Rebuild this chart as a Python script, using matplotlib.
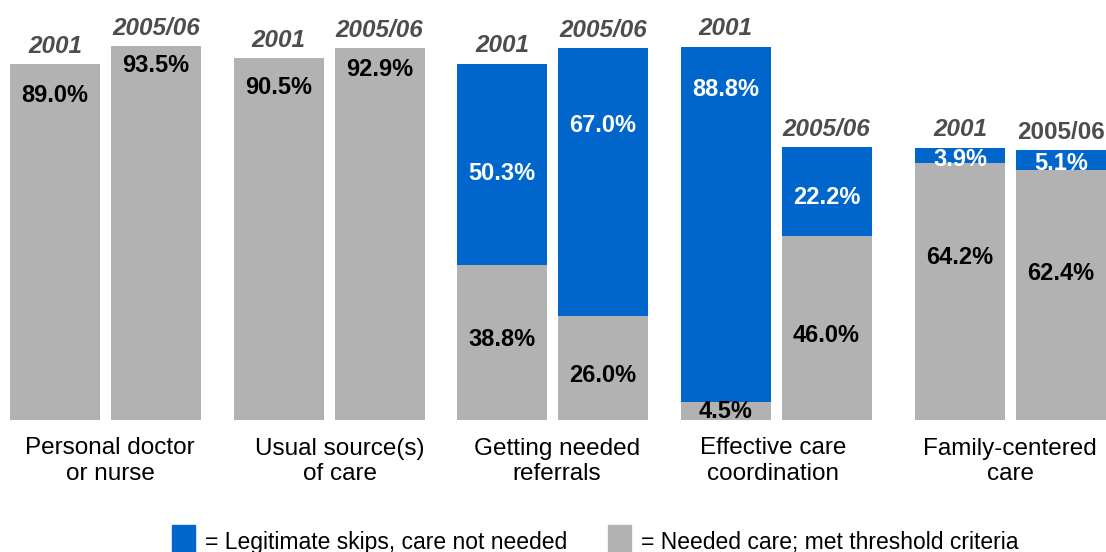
import numpy as np
import matplotlib
matplotlib.use("Agg")
import matplotlib.pyplot as plt
from matplotlib.patches import Rectangle

plt.rcParams['font.family'] = ['Liberation Sans', 'DejaVu Sans']

# data
categories = ["Personal doctor\nor nurse", "Usual source(s)\nof care", "Getting needed\nreferrals",
              "Effective care\ncoordination", "Family-centered\ncare"]
years = ["2001", "2005/06"]
needed_2001 = [89.0, 90.5, 38.8, 4.5, 64.2]
needed_2005 = [93.5, 92.9, 26.0, 46.0, 62.4]
skips_2001 = [0.0, 0.0, 50.3, 88.8, 3.9]
skips_2005 = [0.0, 0.0, 67.0, 22.2, 5.1]

# layout (label heights in % units)
group_x = [105.5, 329, 552.5, 776, 1010.5]
cat_x = [110, 340, 557, 773, 1010]
half = 50.5
bw = 90
needed_lab_y = [[81.25, 88.75], [83, 87.5], [20, 11.25], [2.25, 21], [40.5, 36.75]]
skips_lab_y = [[0, 0], [0, 0], [61.75, 73.75], [82.5, 55.5], [65.25, 64.25]]

BLUE = "#0066CC"
GRAY = "#B2B2B2"
YEARC = "#4D4D4D"

W, H = 1106, 552
base = 420
scale = 4.0

fig = plt.figure(figsize=(W/100, H/100), dpi=100)
ax = fig.add_axes([0, 0, 1, 1])
ax.set_xlim(0, W)
ax.set_ylim(-(H-base)/scale, base/scale)
ax.axis("off")

needed = [needed_2001, needed_2005]
skips = [skips_2001, skips_2005]
for g in range(len(categories)):
    for k in range(2):
        x = group_x[g] + (k*2-1)*half
        n = needed[k][g]
        s = skips[k][g]
        ax.bar(x, n, width=bw, color=GRAY)
        if s > 0:
            ax.bar(x, s, bottom=n, width=bw, color=BLUE)
        ax.text(x, needed_lab_y[g][k], f"{n:.1f}%", ha="center", va="center",
                fontsize=17, fontweight="bold", color="black")
        if s > 0:
            ax.text(x, skips_lab_y[g][k], f"{s:.1f}%", ha="center", va="center",
                    fontsize=17, fontweight="bold", color="white")
        style = "normal" if (g == 4 and k == 1) else "italic"
        ax.text(x, n+s+1.6, years[k], ha="center", va="bottom", fontsize=17.5,
                fontweight="bold", style=style, color=YEARC)
    ax.text(cat_x[g], -10.3, categories[g], ha="center", va="center", fontsize=17.5,
            linespacing=1.2, color="black")

# legend
fig.patches.append(Rectangle((172/W, 1-552/H), 23/W, 27/H, transform=fig.transFigure,
                             color=BLUE))
fig.text(205/W, 1-542/H, "= Legitimate skips, care not needed", fontsize=16.5, va="center")
fig.patches.append(Rectangle((608/W, 1-552/H), 23/W, 27/H, transform=fig.transFigure,
                             color=GRAY))
fig.text(641/W, 1-542/H, "= Needed care; met threshold criteria", fontsize=16.5, va="center")

fig.savefig("out.png", dpi=100)
